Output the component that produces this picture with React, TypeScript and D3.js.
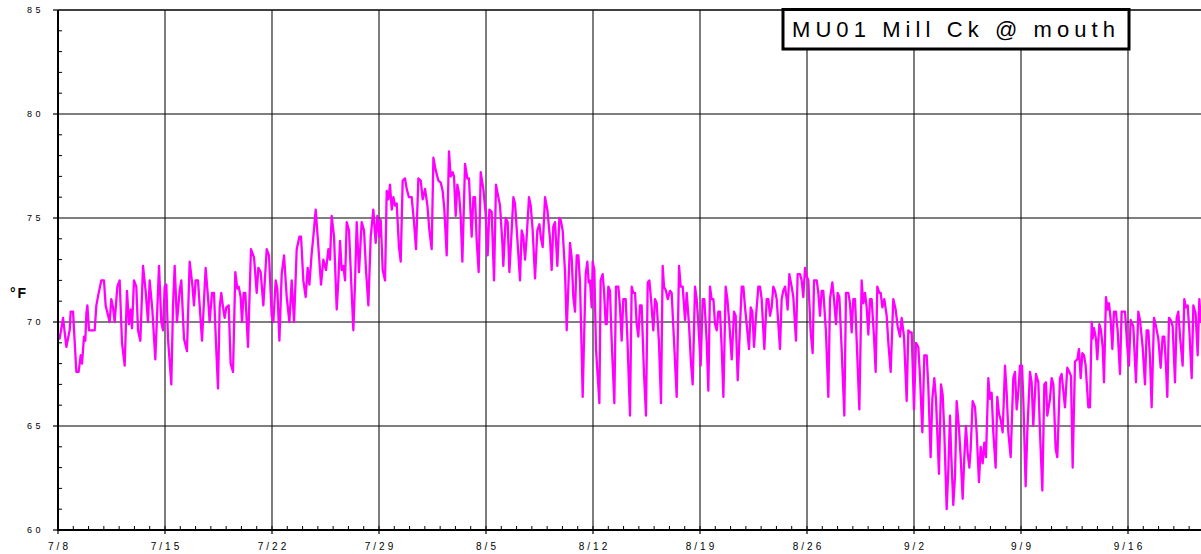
import React from "react";
import * as d3 from "d3";

// Logger record start (7/8, midnight); readings are [hours since start, °F]
const RECORD_START = new Date(2003, 6, 8);
const RECORD_DAYS = 75;

const yTickValues = [60, 65, 70, 75, 80, 85];
const xTickLabels = ["7/8", "7/15", "7/22", "7/29", "8/5", "8/12", "8/19", "8/26", "9/2", "9/9", "9/16"];
const stationTitle = "MU01 Mill Ck @ mouth";
const unitLabel = "°F";

const weekJul08: [number, number][] = [
  [0, 69.4], [2.6, 69.2], [7.9, 70.2], [13.1, 68.8], [18.3, 69.6], [19.9, 70.5], [23.6, 70.5], [28.8, 67.6],
  [32.4, 67.6], [35.6, 68.4], [37.7, 68.0], [40.8, 69.3], [42.9, 69.1], [44.5, 70.4], [46.1, 70.8], [48.7, 69.6],
  [57.6, 69.6], [60.2, 70.8], [63.9, 71.4], [68.0, 72.0], [72.2, 72.0], [74.8, 70.8], [81.1, 70.0], [83.7, 71.1],
  [86.4, 70.7], [89.0, 70.0], [93.2, 71.7], [96.8, 72.0], [100.5, 69.0], [104.7, 67.9], [108.3, 71.5], [111.5, 69.9],
  [114.1, 70.6], [116.2, 69.7], [119.3, 72.0], [123.0, 71.7], [125.6, 69.6], [129.3, 69.1], [133.5, 72.7], [137.6, 71.5],
  [141.3, 70.0], [143.9, 72.0], [148.1, 70.6], [152.8, 68.2], [158.6, 72.7], [162.2, 70.0], [164.9, 69.6], [167.5, 71.7],
];
const weekJul15: [number, number][] = [
  [170.1, 71.8], [172.7, 69.2], [177.9, 67.0], [180.6, 70.8], [183.2, 72.7], [186.8, 70.0], [191.0, 71.5], [193.6, 72.0],
  [197.8, 69.2], [202.5, 68.6], [206.7, 72.9], [210.9, 71.8], [213.5, 70.8], [216.1, 72.0], [219.8, 72.0], [222.4, 70.8],
  [226.1, 69.1], [231.8, 72.6], [235.5, 71.2], [238.1, 70.0], [241.8, 71.4], [244.9, 71.4], [248.6, 68.6], [251.2, 66.8],
  [253.8, 70.7], [256.4, 71.4], [259.1, 70.7], [261.7, 70.2], [264.3, 70.7], [268.0, 70.8], [271.1, 68.0], [274.8, 67.6],
  [278.4, 72.4], [281.6, 71.6], [283.7, 71.7], [286.8, 71.2], [288.9, 70.0], [291.5, 71.4], [294.1, 71.4], [298.3, 68.8],
  [303.0, 73.5], [307.8, 73.1], [312.0, 71.4], [314.6, 72.6], [318.2, 72.4], [322.4, 70.8], [327.7, 73.5], [331.3, 73.2],
  [335.5, 70.3],
];
const weekJul22: [number, number][] = [
  [338.1, 70.0], [341.8, 72.0], [344.4, 71.6], [347.6, 69.1], [351.2, 72.3], [354.9, 73.2], [359.1, 71.2], [363.3, 70.0],
  [366.9, 72.0], [370.6, 70.0], [374.8, 73.5], [379.0, 74.1], [381.6, 74.1], [385.2, 72.0], [388.9, 71.2], [392.0, 72.6],
  [394.7, 71.8], [398.3, 73.3], [400.9, 74.1], [404.6, 75.4], [407.7, 74.1], [413.0, 71.8], [416.6, 73.0], [420.8, 72.5],
  [424.5, 73.5], [427.1, 73.0], [429.7, 75.1], [433.4, 74.1], [437.6, 70.6], [440.2, 72.0], [442.8, 73.9], [445.4, 72.5],
  [448.0, 72.7], [450.7, 72.0], [453.3, 74.8], [456.9, 74.4], [459.6, 72.5], [463.7, 69.6], [466.4, 71.9], [469.0, 74.8],
  [472.6, 72.4], [476.8, 74.8], [480.5, 74.4], [483.6, 72.5], [487.3, 70.8], [491.0, 74.1], [495.1, 75.4], [498.8, 73.8],
  [501.4, 75.1],
];
const weekJul29: [number, number][] = [
  [504.6, 74.1], [506.7, 74.9], [509.8, 72.5], [513.5, 72.0], [516.1, 76.3], [518.7, 75.9], [521.3, 76.6], [524.0, 75.4],
  [526.6, 76.0], [529.2, 75.6], [531.8, 75.7], [535.4, 73.6], [538.1, 72.9], [541.2, 76.8], [544.9, 76.9], [547.5, 76.4],
  [551.1, 76.0], [555.3, 76.0], [559.0, 74.8], [562.1, 73.5], [565.8, 76.9], [569.5, 76.8], [572.6, 75.9], [576.3, 76.4],
  [580.0, 75.6], [583.1, 74.4], [586.7, 73.5], [589.4, 77.9], [593.0, 77.3], [597.2, 76.8], [600.9, 76.7], [604.0, 76.3],
  [606.6, 75.4], [610.3, 73.2], [613.9, 78.2], [616.5, 77.0], [619.7, 77.2], [621.8, 77.0], [624.4, 75.1], [627.0, 76.6],
  [629.6, 76.2], [632.2, 75.1], [634.9, 72.9], [639.1, 77.6], [642.7, 76.9], [645.3, 76.9], [649.5, 74.1], [652.2, 76.0],
  [654.8, 76.0], [657.4, 73.9], [660.5, 72.4], [663.7, 77.2], [667.8, 76.4], [671.5, 75.2],
];
const weekAug05: [number, number][] = [
  [674.6, 73.2], [677.3, 75.4], [680.9, 75.3], [684.6, 72.0], [687.7, 76.6], [691.4, 76.0], [694.0, 75.6], [697.7, 73.8],
  [699.2, 72.7], [702.9, 75.0], [706.0, 74.8], [708.7, 72.4], [712.3, 74.4], [715.0, 76.0], [717.6, 75.7], [721.2, 74.0],
  [725.4, 72.0], [728.0, 74.4], [730.6, 74.1], [733.3, 73.0], [735.9, 74.1], [739.5, 76.0], [742.2, 75.6], [745.3, 74.4],
  [749.0, 72.1], [752.6, 74.4], [755.8, 74.7], [758.4, 74.0], [761.0, 73.6], [764.7, 76.0], [768.3, 75.4], [772.5, 74.0],
  [775.1, 72.5], [777.7, 74.6], [780.4, 74.8], [784.0, 72.7], [787.2, 75.0], [789.3, 74.9], [792.4, 74.4], [796.1, 72.4],
  [798.7, 69.6], [803.9, 73.8], [806.5, 73.1], [809.1, 71.2], [811.8, 70.5], [814.4, 73.2], [817.0, 73.2], [819.6, 71.9],
  [821.2, 69.9], [823.8, 66.4], [825.9, 69.1], [828.5, 72.3], [831.1, 72.9], [833.2, 71.9], [835.3, 72.0], [837.9, 70.7],
  [839.5, 72.9],
];
const weekAug12: [number, number][] = [
  [842.1, 72.5], [844.7, 68.7], [850.0, 66.1], [852.0, 72.0], [855.2, 72.3], [857.3, 71.5], [859.9, 69.9], [861.5, 69.9],
  [864.1, 71.7], [866.7, 71.5], [869.3, 69.1], [873.5, 66.1], [876.1, 71.7], [879.8, 71.7], [882.4, 70.7], [885.0, 69.1],
  [887.6, 71.1], [891.3, 71.1], [893.9, 69.3], [898.1, 65.5], [900.7, 71.7], [903.3, 71.4], [906.0, 71.4], [908.6, 69.9],
  [911.2, 69.3], [913.8, 70.8], [916.4, 70.8], [920.1, 67.5], [923.2, 65.5], [925.9, 71.9], [928.5, 72.0], [931.1, 71.1],
  [934.7, 69.6], [937.4, 71.1], [940.0, 70.9], [943.6, 69.0], [946.8, 66.1], [949.4, 72.7], [951.5, 71.7], [954.6, 71.5],
  [957.3, 71.1], [960.9, 71.5], [963.5, 71.4], [967.2, 69.1], [971.4, 66.4], [975.1, 72.7], [977.7, 71.7], [980.8, 71.7],
  [984.5, 70.1], [987.1, 71.4], [990.7, 69.9], [993.9, 68.0], [996.5, 67.0], [1000.2, 71.7], [1002.8, 71.1], [1005.4, 69.9],
];
const weekAug19: [number, number][] = [
  [1009.1, 67.9], [1012.2, 71.1], [1014.8, 71.1], [1018.5, 69.1], [1021.1, 66.7], [1023.7, 71.7], [1026.3, 71.1], [1029.0, 71.1],
  [1031.6, 69.9], [1034.2, 69.6], [1036.8, 70.5], [1039.4, 70.5], [1042.0, 68.8], [1044.7, 66.4], [1048.3, 71.7], [1051.0, 71.1],
  [1054.1, 69.9], [1057.8, 68.2], [1061.4, 70.5], [1064.0, 70.3], [1067.2, 67.2], [1070.8, 69.8], [1073.5, 71.7], [1076.1, 71.7],
  [1078.7, 70.7], [1081.3, 69.9], [1085.0, 68.7], [1087.6, 70.7], [1090.2, 70.5], [1092.8, 68.8], [1096.0, 70.3], [1099.6, 71.7],
  [1102.2, 71.7], [1104.8, 71.1], [1109.0, 68.7], [1112.7, 71.1], [1115.3, 71.1], [1117.9, 70.3], [1120.5, 70.7], [1123.1, 71.7],
  [1125.8, 71.5], [1128.4, 71.1], [1133.6, 68.7], [1136.2, 71.1], [1138.8, 71.5], [1141.5, 71.7], [1144.1, 71.1], [1145.6, 70.6],
  [1148.3, 72.3], [1151.9, 71.7], [1154.5, 71.2], [1158.7, 69.1], [1161.3, 72.3], [1165.0, 72.3], [1167.6, 72.0], [1170.2, 71.2],
  [1172.9, 72.6], [1175.5, 72.2],
];
const weekAug26: [number, number][] = [
  [1178.1, 72.0], [1181.8, 69.5], [1184.9, 68.5], [1187.0, 72.0], [1191.2, 72.0], [1193.8, 71.4], [1196.4, 70.3], [1199.0, 71.5],
  [1201.6, 71.5], [1205.8, 69.5], [1209.5, 66.4], [1212.1, 71.1], [1215.8, 71.9], [1218.4, 71.1], [1221.5, 69.9], [1224.1, 71.4],
  [1226.8, 71.2], [1230.4, 68.7], [1234.6, 65.5], [1237.2, 71.4], [1240.9, 71.4], [1243.5, 70.9], [1246.1, 69.5], [1248.7, 71.1],
  [1251.4, 71.1], [1254.0, 69.1], [1258.2, 65.8], [1261.8, 72.0], [1264.4, 70.9], [1267.1, 71.4], [1269.7, 70.7], [1272.3, 69.4],
  [1274.9, 71.1], [1277.5, 71.1], [1281.2, 69.3], [1283.8, 67.6], [1286.4, 71.7], [1289.6, 71.4], [1291.7, 71.4], [1294.3, 70.7],
  [1297.4, 71.1], [1301.1, 70.3], [1303.7, 69.0], [1307.4, 67.6], [1311.5, 71.1], [1315.2, 70.6], [1318.3, 69.8], [1322.0, 69.3],
  [1324.6, 70.2], [1328.3, 69.3], [1332.5, 66.2], [1335.1, 69.6], [1337.7, 69.5], [1340.3, 69.5],
];
const weekSep02: [number, number][] = [
  [1344.0, 65.8], [1347.1, 69.0], [1350.8, 68.8], [1353.4, 67.4], [1357.1, 64.7], [1360.2, 68.4], [1363.9, 68.4], [1366.5, 66.9],
  [1370.1, 63.5], [1372.8, 66.3], [1375.9, 67.3], [1378.5, 66.3], [1383.2, 62.7], [1386.4, 67.0], [1389.0, 66.5], [1391.6, 64.7],
  [1395.3, 61.0], [1397.9, 62.9], [1400.5, 65.5], [1402.1, 63.9], [1405.7, 61.2], [1408.4, 62.6], [1411.0, 66.2], [1414.6, 64.9],
  [1417.3, 63.5], [1420.4, 61.5], [1423.0, 63.5], [1425.6, 65.0], [1428.3, 63.7], [1430.9, 63.0], [1433.0, 63.9], [1436.1, 66.2],
  [1439.8, 65.9], [1442.4, 64.7], [1446.0, 62.3], [1448.7, 64.0], [1451.8, 63.2], [1454.4, 64.2], [1457.0, 63.5], [1460.7, 67.3],
  [1463.3, 66.3], [1465.9, 66.6], [1468.5, 64.7], [1472.2, 63.0], [1474.8, 66.4], [1477.4, 65.6], [1480.1, 65.3], [1483.2, 64.7],
  [1486.9, 67.9], [1489.5, 66.6], [1492.1, 64.7], [1495.8, 63.5], [1499.9, 67.3], [1502.6, 67.6], [1505.2, 65.8], [1507.8, 66.6],
  [1510.4, 67.9],
];
const weekSep09: [number, number][] = [
  [1513.6, 67.9], [1515.6, 66.3], [1519.3, 62.1], [1521.9, 64.7], [1526.1, 67.6], [1528.7, 67.1], [1531.3, 65.0], [1535.5, 67.5],
  [1539.2, 67.1], [1541.8, 64.7], [1545.5, 61.9], [1548.6, 67.0], [1551.2, 67.1], [1553.3, 65.5], [1557.5, 66.3], [1560.1, 67.3],
  [1562.8, 67.0], [1566.4, 63.9], [1569.0, 63.5], [1573.2, 67.3], [1575.8, 67.5], [1578.4, 66.7], [1581.1, 65.9], [1584.7, 67.8],
  [1587.9, 67.6], [1590.5, 67.4], [1593.1, 63.0], [1596.8, 68.1], [1600.4, 68.2], [1603.0, 68.7], [1605.7, 67.3], [1608.3, 68.5],
  [1610.9, 68.4], [1613.5, 67.9], [1617.7, 65.9], [1620.3, 65.9], [1623.0, 70.0], [1624.5, 69.2], [1626.6, 69.7], [1629.7, 69.2],
  [1631.8, 68.2], [1635.0, 69.9], [1637.6, 69.6], [1640.2, 68.8], [1642.3, 67.1], [1645.4, 71.2], [1648.1, 70.6], [1650.2, 70.9],
  [1652.8, 70.1], [1655.4, 68.7], [1658.0, 70.5], [1661.1, 70.5], [1663.7, 69.6], [1667.4, 67.5], [1670.0, 70.5], [1675.3, 70.5],
  [1678.9, 68.8],
];
const weekSep16: [number, number][] = [
  [1681.5, 67.9], [1684.2, 70.1], [1688.3, 69.8], [1692.5, 67.1], [1696.2, 70.5], [1698.8, 70.1], [1703.0, 68.8], [1706.7, 67.0],
  [1709.3, 69.6], [1711.9, 69.6], [1714.5, 68.3], [1717.1, 65.9], [1720.8, 70.2], [1723.9, 69.8], [1727.6, 69.2], [1731.3, 67.8],
  [1734.4, 69.3], [1737.0, 69.3], [1739.6, 67.9], [1741.7, 66.4], [1744.4, 70.2], [1747.0, 70.1], [1750.1, 69.8], [1753.8, 67.1],
  [1756.4, 70.2], [1759.0, 70.5], [1761.7, 69.3], [1765.8, 67.9], [1768.4, 71.1], [1771.1, 70.7], [1773.7, 70.8], [1776.3, 69.6],
  [1780.0, 67.3], [1782.6, 70.8], [1786.2, 70.4], [1789.4, 68.4], [1792.0, 71.1], [1794.6, 70.0],
];

const readings = [
  ...weekJul08, ...weekJul15, ...weekJul22, ...weekJul29, ...weekAug05, ...weekAug12,
  ...weekAug19, ...weekAug26, ...weekSep02, ...weekSep09, ...weekSep16,
];

const W = 1201;
const H = 554;
const LEFT = 58;
const TOP = 10;
const BOTTOM = 530;
const PX_PER_WEEK = 107;
const FONT = "'Liberation Sans', Arial, Helvetica, sans-serif";

const HOUR = 3600 * 1000;
const toDate = (h: number) => new Date(RECORD_START.getTime() + h * HOUR);

export default function App() {
  const endDate = d3.timeDay.offset(RECORD_START, RECORD_DAYS);
  const x = d3
    .scaleTime()
    .domain([RECORD_START, endDate])
    .range([LEFT, LEFT + (RECORD_DAYS * PX_PER_WEEK) / 7]);
  const y = d3.scaleLinear().domain([60, 85]).range([BOTTOM, TOP]);

  const weekTicks = d3.range(xTickLabels.length).map((i) => d3.timeDay.offset(RECORD_START, i * 7));
  const dayTicks = d3.timeDay.range(RECORD_START, endDate);
  const minorY = d3.range(60, 86, 1).filter((v) => v % 5 !== 0);

  const line = d3
    .line<[number, number]>()
    .x((d) => x(toDate(d[0])))
    .y((d) => y(d[1]));

  const right = x.range()[1];

  return (
    <div style={{ position: "absolute", left: 0, top: 0 }}>
      <svg width={W} height={H} style={{ display: "block", background: "#fff" }}>
        {/* horizontal gridlines */}
        {yTickValues
          .filter((v) => v !== 60)
          .map((v) => (
            <line key={`hg${v}`} x1={LEFT} x2={right} y1={y(v)} y2={y(v)} stroke="#000" strokeWidth={v === 85 ? 1.6 : 1.1} />
          ))}
        {/* vertical gridlines */}
        {weekTicks.slice(1).map((d, i) => (
          <line key={`vg${i}`} x1={x(d)} x2={x(d)} y1={TOP} y2={BOTTOM} stroke="#111" strokeWidth={1.1} />
        ))}

        {/* temperature trace */}
        <path
          d={line(readings) ?? ""}
          fill="none"
          stroke="#ff00ff"
          strokeWidth={2.3}
          strokeLinejoin="round"
          strokeLinecap="round"
        />

        {/* y axis */}
        <line x1={LEFT} x2={LEFT} y1={TOP} y2={BOTTOM + 1} stroke="#000" strokeWidth={2} />
        {yTickValues.map((v) => (
          <line key={`yt${v}`} x1={LEFT - 5} x2={LEFT} y1={y(v)} y2={y(v)} stroke="#000" strokeWidth={1.2} />
        ))}
        {minorY.map((v) => (
          <line key={`ym${v}`} x1={LEFT} x2={LEFT + 4} y1={y(v)} y2={y(v)} stroke="#000" strokeWidth={1} />
        ))}
        {yTickValues.map((v) => (
          <text
            key={`yl${v}`}
            x={44}
            y={y(v)}
            dy="0.35em"
            textAnchor="end"
            fontFamily={FONT}
            fontSize={9}
            letterSpacing={3.5}
            fill="#000"
          >
            {v}
          </text>
        ))}
        <text x={10} y={298} fontFamily={FONT} fontSize={14} fontWeight="bold" letterSpacing={2} fill="#000">
          {unitLabel}
        </text>

        {/* x axis */}
        <line x1={LEFT - 1} x2={right} y1={BOTTOM} y2={BOTTOM} stroke="#000" strokeWidth={2} />
        {dayTicks.map((d, i) => (
          <line key={`xm${i}`} x1={x(d)} x2={x(d)} y1={BOTTOM - 4} y2={BOTTOM} stroke="#000" strokeWidth={1} />
        ))}
        {weekTicks.map((d, i) => (
          <line key={`xt${i}`} x1={x(d)} x2={x(d)} y1={BOTTOM} y2={BOTTOM + 4} stroke="#000" strokeWidth={1.2} />
        ))}
        {weekTicks.map((d, i) => (
          <text
            key={`xl${i}`}
            x={x(d) + 1.5}
            y={550}
            textAnchor="middle"
            fontFamily={FONT}
            fontSize={10}
            letterSpacing={3}
            fill="#000"
          >
            {xTickLabels[i]}
          </text>
        ))}

        {/* station title box */}
        <rect x={783} y={9.5} width={346} height={39.5} fill="#fff" stroke="#000" strokeWidth={3} />
        <text
          x={792}
          y={37}
          fontFamily={FONT}
          fontSize={22}
          textLength={323}
          lengthAdjust="spacing"
          fill="#000"
        >
          {stationTitle}
        </text>
      </svg>
    </div>
  );
}
